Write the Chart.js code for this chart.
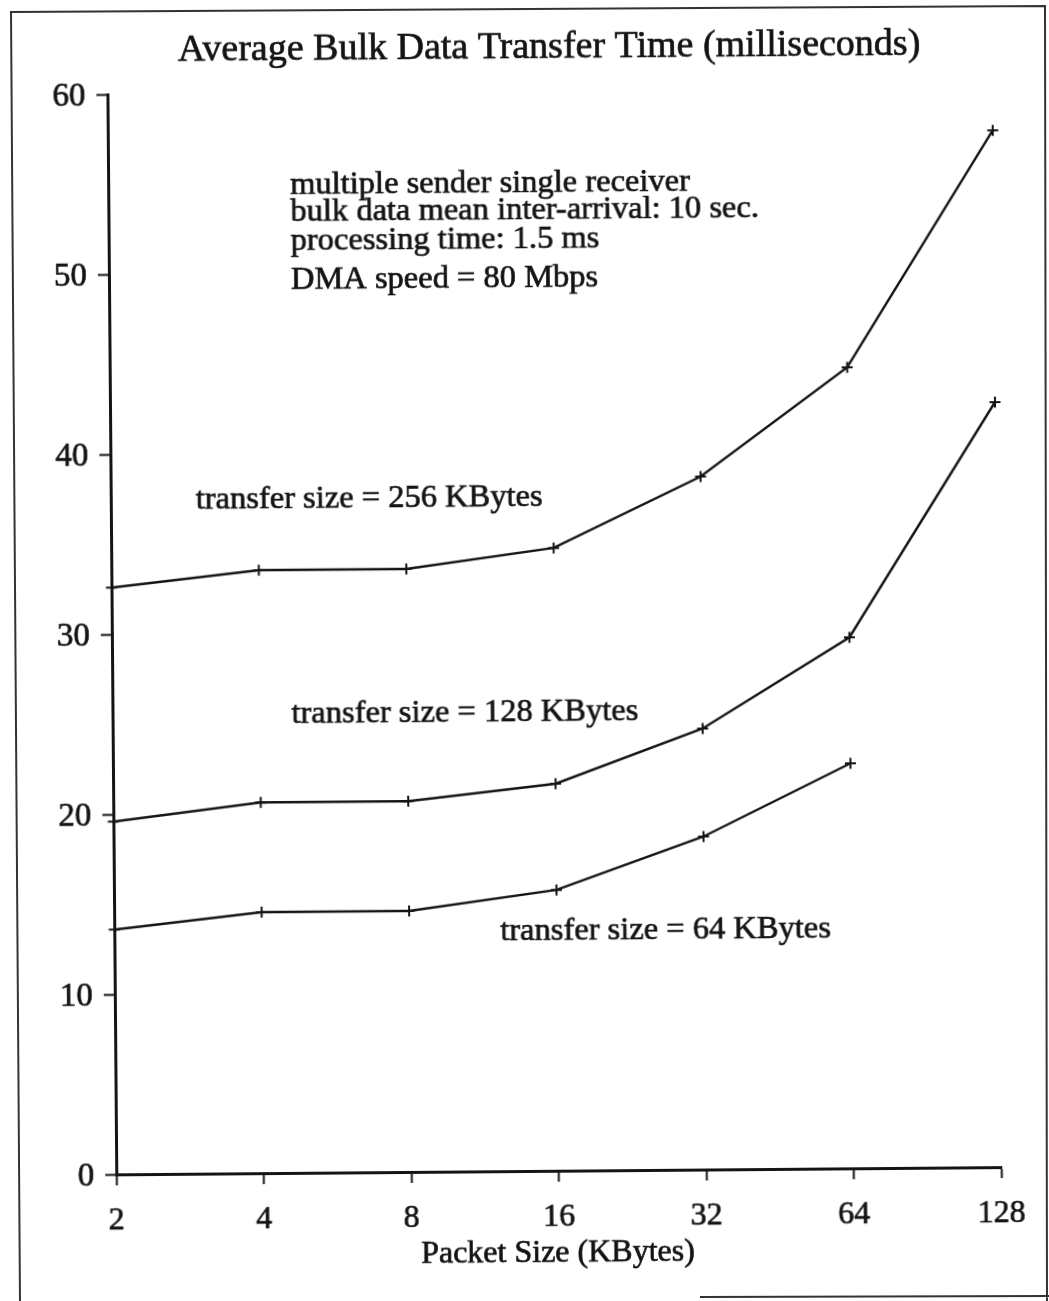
<!DOCTYPE html>
<html>
<head>
<meta charset="utf-8">
<script src="https://cdn.jsdelivr.net/npm/chart.js@4.4.1/dist/chart.umd.min.js"></script>
<style>
  html, body { margin: 0; padding: 0; background: #fff; overflow: hidden; }
  #page { position: relative; width: 1049px; height: 1301px; transform: rotate(-0.47deg); transform-origin: 524.5px 650.5px; }
  canvas { position: absolute; left: 0; top: 0; }
  #frame { position: absolute; left: 0; top: 0; pointer-events: none; }
</style>
</head>
<body>
<div id="page"><canvas id="chart" width="1049" height="1301"></canvas></div>
<canvas id="frame" width="1049" height="1301"></canvas>
<script>
// Packet sizes (KBytes) on a base-2 log axis
const packetSizes = [2, 4, 8, 16, 32, 64, 128];
// Average bulk data transfer time (ms) for each transfer size
const time256KB = [32.6, 33.5, 33.5, 34.6, 38.5, 44.5, 57.6];
const time128KB = [19.6, 20.6, 20.6, 21.5, 24.5, 29.5, 42.5];
const time64KB  = [13.6, 14.5, 14.5, 15.6, 18.5, 22.5, null];
const yTickValues = [0, 10, 20, 30, 40, 50, 60];

const titleText = 'Average Bulk Data Transfer Time (milliseconds)';
const xTitleText = 'Packet Size (KBytes)';
const noteLines = [
  'multiple sender single receiver',
  'bulk data mean inter-arrival: 10 sec.',
  'processing time: 1.5 ms',
  'DMA speed = 80 Mbps'
];
const seriesLabels = [
  'transfer size = 256 KBytes',
  'transfer size = 128 KBytes',
  'transfer size = 64 KBytes'
];

const INK = '#141414';
const SERIF = '"Liberation Serif", "Times New Roman", serif';

function toPoints(values) {
  return packetSizes.map((p, i) => ({ x: p, y: values[i] })).filter(d => d.y !== null);
}

function seriesStyle(label, values) {
  return {
    label: label,
    data: toPoints(values),
    borderColor: INK,
    borderWidth: 2.4,
    pointStyle: 'cross',
    pointRadius: 5.5,
    pointBorderWidth: 2,
    pointBorderColor: INK,
    fill: false,
    tension: 0,
    clip: false
  };
}

function inkText(ctx, text, x, y) {
  ctx.fillText(text, x, y);
  ctx.strokeText(text, x, y);
}

// Chart title, axis title and the text notes
const decorations = {
  id: 'decorations',
  afterDraw(chart) {
    const ctx = chart.ctx;
    ctx.save();
    ctx.fillStyle = INK;
    ctx.strokeStyle = INK;
    ctx.lineWidth = 0.7;
    ctx.textBaseline = 'middle';
    ctx.textAlign = 'center';
    ctx.font = '38px ' + SERIF;
    inkText(ctx, titleText, 554, 48);

    ctx.font = '32px ' + SERIF;
    inkText(ctx, xTitleText, 553, 1254);

    ctx.textAlign = 'left';
    ctx.font = '32.5px ' + SERIF;
    const noteY = [183, 210, 239, 278];
    noteLines.forEach((t, i) => inkText(ctx, t, 294, noteY[i]));

    inkText(ctx, seriesLabels[0], 197, 497);
    inkText(ctx, seriesLabels[1], 291, 712);
    inkText(ctx, seriesLabels[2], 498, 931);
    ctx.restore();
  }
};

new Chart(document.getElementById('chart'), {
  type: 'line',
  data: {
    datasets: [
      seriesStyle('256 KBytes', time256KB),
      seriesStyle('128 KBytes', time128KB),
      seriesStyle('64 KBytes', time64KB)
    ]
  },
  options: {
    responsive: false,
    animation: false,
    events: [],
    layout: { padding: { top: 91, right: 52, left: 0, bottom: 0 } },
    plugins: { legend: { display: false }, tooltip: { enabled: false }, title: { display: false } },
    scales: {
      x: {
        type: 'logarithmic',
        min: 2,
        max: 128,
        afterBuildTicks: s => { s.ticks = packetSizes.map(v => ({ value: v })); },
        afterFit: s => { s.height = 130; },
        grid: { drawOnChartArea: false, drawTicks: true, tickLength: 11, tickColor: INK, tickWidth: 2 },
        border: { display: true, color: INK, width: 3 },
        ticks: {
          color: INK, padding: 16, autoSkip: false, maxRotation: 0,
          textStrokeColor: INK, textStrokeWidth: 0.7,
          font: { family: SERIF, size: 32 },
          callback: v => String(v)
        }
      },
      y: {
        min: 0,
        max: 60,
        afterBuildTicks: s => { s.ticks = yTickValues.map(v => ({ value: v })); },
        afterFit: s => { s.width = 112; },
        grid: { drawOnChartArea: false, drawTicks: true, tickLength: 11, tickColor: INK, tickWidth: 2 },
        border: { display: true, color: INK, width: 3 },
        ticks: {
          color: INK, padding: 11, labelOffset: 2,
          textStrokeColor: INK, textStrokeWidth: 0.7,
          font: { family: SERIF, size: 33 },
          callback: v => String(v)
        }
      }
    }
  },
  plugins: [decorations]
});

// Page border around the figure
(function drawFrame() {
  const ctx = document.getElementById('frame').getContext('2d');
  ctx.strokeStyle = '#333';
  ctx.lineWidth = 2;
  ctx.beginPath();
  ctx.moveTo(20, 1301); ctx.lineTo(11, 12); ctx.lineTo(1045, 6); ctx.lineTo(1047, 1301);
  ctx.moveTo(700, 1297); ctx.lineTo(1049, 1296);
  ctx.stroke();
})();
</script>
</body>
</html>
